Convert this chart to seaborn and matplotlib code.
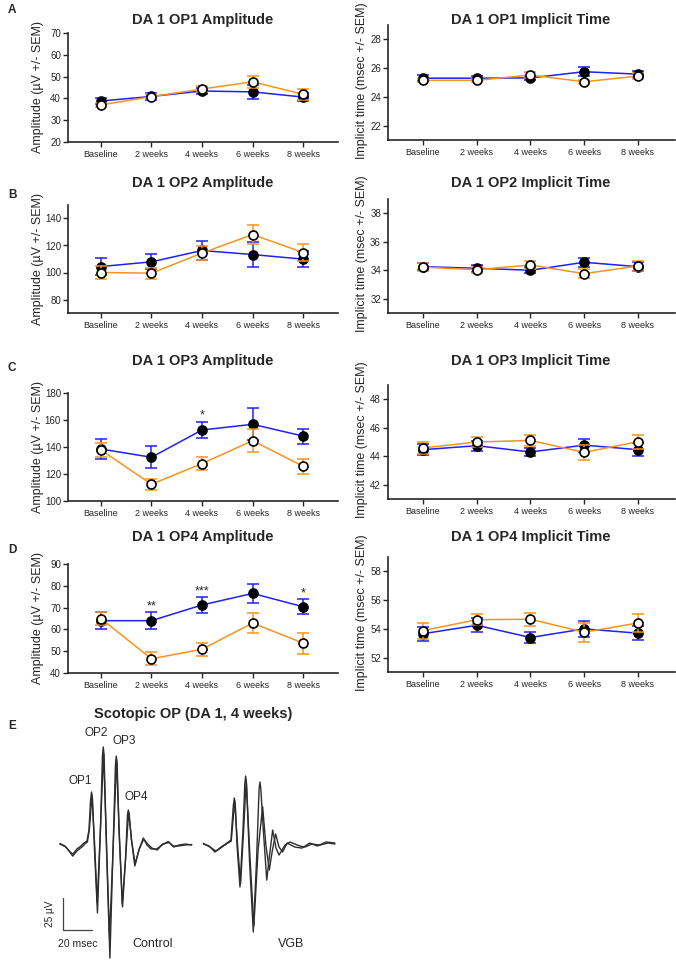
import numpy as np
import pandas as pd
import seaborn as sns
import matplotlib
matplotlib.use("Agg")
import matplotlib.pyplot as plt

BLUE = "#1f1fff"
ORANGE = "#f7941d"
TRACE = "#2e2e2e"

timepoints = ["Baseline", "2 weeks", "4 weeks", "6 weeks", "8 weeks"]

# mean +/- SEM, control (blue, filled) and VGB (orange, open)
op1_amp_ctl = [38.8, 40.9, 43.4, 43.0, 40.6]
op1_amp_ctl_sem = [1.5, 1.5, 1.5, 3.3, 1.7]
op1_amp_vgb = [37.0, 40.8, 44.3, 47.6, 41.9]
op1_amp_vgb_sem = [1.0, 1.0, 1.5, 2.6, 2.5]
op1_it_ctl = [25.3, 25.3, 25.32, 25.75, 25.58]
op1_it_ctl_sem = [0.22, 0.12, 0.15, 0.3, 0.2]
op1_it_vgb = [25.15, 25.15, 25.52, 25.05, 25.45]
op1_it_vgb_sem = [0.12, 0.1, 0.2, 0.15, 0.2]

op2_amp_ctl = [104.4, 107.9, 116.3, 113.3, 109.9]
op2_amp_ctl_sem = [6.0, 5.5, 7.0, 9.4, 5.8]
op2_amp_vgb = [100.0, 99.5, 114.4, 128.1, 114.8]
op2_amp_vgb_sem = [4.5, 4.0, 5.0, 7.0, 6.2]
op2_it_ctl = [34.25, 34.14, 34.0, 34.56, 34.25]
op2_it_ctl_sem = [0.25, 0.25, 0.2, 0.3, 0.3]
op2_it_vgb = [34.22, 34.04, 34.37, 33.76, 34.3]
op2_it_vgb_sem = [0.28, 0.2, 0.25, 0.3, 0.35]

op3_amp_ctl = [138.5, 132.4, 152.6, 156.8, 148.1]
op3_amp_ctl_sem = [7.5, 8.0, 6.2, 11.8, 5.6]
op3_amp_vgb = [137.8, 112.4, 127.7, 144.7, 125.7]
op3_amp_vgb_sem = [5.5, 4.2, 5.1, 8.6, 5.5]
op3_it_ctl = [44.46, 44.74, 44.3, 44.78, 44.46]
op3_it_ctl_sem = [0.4, 0.35, 0.3, 0.45, 0.45]
op3_it_vgb = [44.58, 45.0, 45.11, 44.27, 45.02]
op3_it_vgb_sem = [0.45, 0.35, 0.4, 0.55, 0.5]

op4_amp_ctl = [64.0, 64.0, 71.2, 76.5, 70.4]
op4_amp_ctl_sem = [3.9, 4.0, 3.6, 4.5, 3.4]
op4_amp_vgb = [65.0, 46.5, 50.9, 62.9, 53.7]
op4_amp_vgb_sem = [3.0, 3.0, 3.0, 4.4, 4.8]
op4_it_ctl = [53.66, 54.25, 53.4, 54.0, 53.7]
op4_it_ctl_sem = [0.5, 0.5, 0.35, 0.55, 0.5]
op4_it_vgb = [53.88, 54.64, 54.67, 53.77, 54.41]
op4_it_vgb_sem = [0.55, 0.4, 0.45, 0.65, 0.6]

op3_amp_stars = ["", "", "*", "", ""]
op4_amp_stars = ["", "**", "***", "", "*"]
no_stars = [""] * 5

# scotopic OP traces (msec, µV), two overlaid recordings per group
ctl_t_1 = [0, 4.2, 7.1, 9.2, 12.0, 14.8, 17.0, 19.1, 20.5, 21.6, 22.3, 23.0, 24.4, 26.5, 28.6, 30.0, 30.6,
           31.2, 32.9, 35.3, 37.5, 39.2, 39.8, 40.4, 41.7, 44.2, 46.3, 47.7, 48.3, 48.9, 50.5, 52.9, 55.8,
           58.9, 61.5, 64.3, 68.3, 72.1, 76.5, 79.9, 83.4, 88.3, 93.1]
ctl_v_1 = [0.8, -1.6, -5.5, -7.1, -3.1, -0.8, 1.6, 3.1, 11.8, 35.0, 41.7, 36.0, -3.9, -53.5, 11.8, 70.0,
           77.2, 70.5, -3.9, -89.0, -3.9, 63.0, 70.1, 64.0, 11.8, -48.8, -11.8, 24.0, 27.6, 24.5, 3.9, -16.5,
           -3.9, 5.5, 0, -3.1, -3.1, 0, 2.8, -0.8, -0.8, 0, 0.4]
ctl_t_2 = [0, 3.5, 6.5, 9.0, 12.5, 15.5, 17.5, 19.4, 20.8, 22.6, 24.6, 26.3, 28.5, 30.8, 33.0, 35.0, 37.6,
           40.0, 41.9, 44.0, 46.4, 48.5, 50.7, 53.1, 56.0, 59.2, 62.0, 65.0, 68.8, 72.5, 77.0, 80.5, 84.0,
           88.8, 93.1]
ctl_v_2 = [1.2, -0.8, -4.7, -8.7, -4.0, -1.6, 0.8, 2.4, 12.6, 39.4, -1.6, -45.7, 10.2, 72.4, -2.4, -72.4,
           -1.6, 66.9, 10.2, -46.5, -10.2, 26.0, 3.1, -15.0, -3.1, 4.7, 0.8, -2.4, -3.9, 0.8, 2.0, -1.6, 0,
           0.8, 0]
vgb_t_1 = [101.3, 106.0, 110.2, 113.8, 118.0, 120.8, 122.5, 123.2, 123.9, 125.1, 127.2, 129.3, 130.6,
           131.2, 131.8, 133.9, 136.6, 138.9, 140.7, 141.3, 141.9, 143.7, 146.1, 148.1, 150.3, 152.7, 154.8,
           159.0, 162.5, 169.6, 173.1, 178.1, 183.7, 189.4, 194.3]
vgb_v_1 = [1.3, -1.6, -4.7, -1.6, 1.6, 3.9, 31.0, 37.0, 31.5, 0, -33.1, 11.8, 48.0, 54.3, 48.5, -11.8,
           -68.5, -11.8, 44.0, 49.6, 44.5, 11.8, -27.6, -7.9, 11.8, -2.4, -7.9, 0, 2.4, -0.8, -1.6, 0.8, 0,
           1.6, 0.8]
vgb_t_2 = [101.3, 105.5, 109.5, 113.5, 117.5, 121.0, 123.5, 125.5, 127.6, 129.7, 131.6, 134.3, 137.0,
           140.0, 143.2, 145.5, 147.9, 150.0, 152.4, 154.8, 157.3, 160.5, 166.0, 171.0, 176.5, 182.0, 188.0,
           194.3]
vgb_v_2 = [0.8, -0.8, -5.5, -2.4, 0.8, 3.1, 34.6, 0, -30.7, 10.2, 51.2, -10.2, -63.8, -3.9, 30.2, 0,
           -19.7, -4.7, 8.7, -1.6, -5.5, 1.6, -1.6, -2.4, 1.6, -0.8, 2.4, 1.6]

W, H = 676, 961


def px_axes(fig, left, top, right, bottom):
    return fig.add_axes([left / W, 1 - bottom / H, (right - left) / W, (bottom - top) / H])


def draw_panel(ax, ctl, ctl_sem, vgb, vgb_sem, stars):
    x = np.arange(len(timepoints))
    groups = [(ctl, ctl_sem, BLUE, "black", 2), (vgb, vgb_sem, ORANGE, "white", 5)]
    for mean, sem, col, face, z in groups:
        df = pd.DataFrame({"x": x, "y": mean})
        sns.lineplot(data=df, x="x", y="y", color=col, lw=1.1, ax=ax, zorder=z)
        ax.errorbar(x, mean, yerr=sem, fmt="none", ecolor=col, elinewidth=1.1,
                    capsize=4, capthick=1.1, zorder=z + 1)
        sns.scatterplot(data=df, x="x", y="y", color=face, edgecolor="black", linewidth=1.2,
                        s=42, ax=ax, zorder=z + 2)
    for i, s in enumerate(stars):
        if s:
            ax.annotate(s, (i, ctl[i] + ctl_sem[i]), xytext=(0, 0), textcoords="offset points",
                        ha="center", va="bottom", fontsize=9)
    ax.set(xlabel="", ylabel="")
    ax.set_xticks(x, timepoints)
    ax.set_xlim(-0.65, 4.69)
    sns.despine(ax=ax)
    for sp in ax.spines.values():
        sp.set_linewidth(1.2)
    ax.tick_params(axis="x", labelsize=6.5, length=3.5, width=1, pad=2)
    ax.tick_params(axis="y", labelsize=7, length=3.5, width=1, pad=1.5)


def main():
    sns.set_style("ticks")
    plt.rcParams["font.family"] = ["Liberation Sans", "DejaVu Sans"]
    fig = plt.figure(figsize=(W / 100, H / 100), dpi=100)

    rows = [
        ("A", 10, 20, "OP1",
         (op1_amp_ctl, op1_amp_ctl_sem, op1_amp_vgb, op1_amp_vgb_sem, no_stars), (20, 70), range(20, 71, 10), (33, 142),
         (op1_it_ctl, op1_it_ctl_sem, op1_it_vgb, op1_it_vgb_sem, no_stars), (21, 29), range(22, 29, 2), (25, 140)),
        ("B", 195, 183, "OP2",
         (op2_amp_ctl, op2_amp_ctl_sem, op2_amp_vgb, op2_amp_vgb_sem, no_stars), (70, 150), range(80, 141, 20), (205, 313),
         (op2_it_ctl, op2_it_ctl_sem, op2_it_vgb, op2_it_vgb_sem, no_stars), (31, 39), range(32, 39, 2), (199, 313)),
        ("C", 368, 361, "OP3",
         (op3_amp_ctl, op3_amp_ctl_sem, op3_amp_vgb, op3_amp_vgb_sem, op3_amp_stars), (100, 180), range(100, 181, 20), (393, 501),
         (op3_it_ctl, op3_it_ctl_sem, op3_it_vgb, op3_it_vgb_sem, no_stars), (41, 49), range(42, 49, 2), (385, 499)),
        ("D", 550, 537, "OP4",
         (op4_amp_ctl, op4_amp_ctl_sem, op4_amp_vgb, op4_amp_vgb_sem, op4_amp_stars), (40, 90), range(40, 91, 10), (564, 673),
         (op4_it_ctl, op4_it_ctl_sem, op4_it_vgb, op4_it_vgb_sem, no_stars), (51, 59), range(52, 59, 2), (557, 672)),
    ]

    for letter, ly, ty, op, amp, amp_lim, amp_ticks, amp_box, it, it_lim, it_ticks, it_box in rows:
        fig.text(8 / W, 1 - ly / H, letter, fontsize=8.5, fontweight="bold", va="center")

        ax = px_axes(fig, 68, amp_box[0], 338, amp_box[1])
        draw_panel(ax, *amp)
        ax.set_ylim(*amp_lim)
        ax.set_yticks(list(amp_ticks))
        fig.text(203 / W, 1 - ty / H, f"DA 1 {op} Amplitude", fontsize=10.5, fontweight="bold",
                 ha="center", va="center")
        fig.text(38 / W, 1 - (sum(amp_box) / 2) / H, "Amplitude (µV +/- SEM)", fontsize=9,
                 rotation=90, ha="center", va="center")

        ax = px_axes(fig, 388, it_box[0], 675, it_box[1])
        draw_panel(ax, *it)
        ax.set_ylim(*it_lim)
        ax.set_yticks(list(it_ticks))
        fig.text(531 / W, 1 - ty / H, f"DA 1 {op} Implicit Time", fontsize=10.5, fontweight="bold",
                 ha="center", va="center")
        fig.text(362 / W, 1 - (sum(it_box) / 2 - 2) / H, "Implicit time (msec +/- SEM)", fontsize=9,
                 rotation=90, ha="center", va="center")

    # E: example scotopic OP waveforms
    fig.text(8 / W, 1 - 726 / H, "E", fontsize=8.5, fontweight="bold", va="center")
    fig.text(193 / W, 1 - 714 / H, "Scotopic OP (DA 1, 4 weeks)", fontsize=10.5, fontweight="bold",
             ha="center", va="center")
    ax = px_axes(fig, 40, 725, 360, 961)
    for t, v in [(ctl_t_1, ctl_v_1), (ctl_t_2, ctl_v_2), (vgb_t_1, vgb_v_1), (vgb_t_2, vgb_v_2)]:
        sns.lineplot(x=t, y=v, sort=False, estimator=None, color=TRACE, lw=1.0, ax=ax,
                     solid_joinstyle="round")
    ax.set_xlim(-14.1, 212)
    ax.set_ylim(-91.3, 94.5)
    ax.axis("off")
    # scale bar: 20 msec x 25 µV
    bar_t, bar_v = 2.3, -67.0
    ax.plot([bar_t, bar_t, bar_t + 20], [bar_v + 25, bar_v, bar_v], color="#444444", lw=0.9)
    ax.text(-7.1, bar_v + 12.5, "25 µV", rotation=90, fontsize=7.2, ha="center", va="center")
    ax.text(12.5, -78, "20 msec", fontsize=7.5, ha="center", va="center")
    ax.text(65.7, -78, "Control", fontsize=9, ha="center", va="center")
    ax.text(163.3, -78, "VGB", fontsize=9, ha="center", va="center")
    for name, tx, ty in [("OP1", 14.1, 50.4), ("OP2", 25.9, 88.0), ("OP3", 45.2, 82.1), ("OP4", 54.1, 37.8)]:
        ax.text(tx, ty, name, fontsize=8.5, ha="center", va="center")

    fig.savefig("out.png", dpi=100)


if __name__ == "__main__":
    main()
